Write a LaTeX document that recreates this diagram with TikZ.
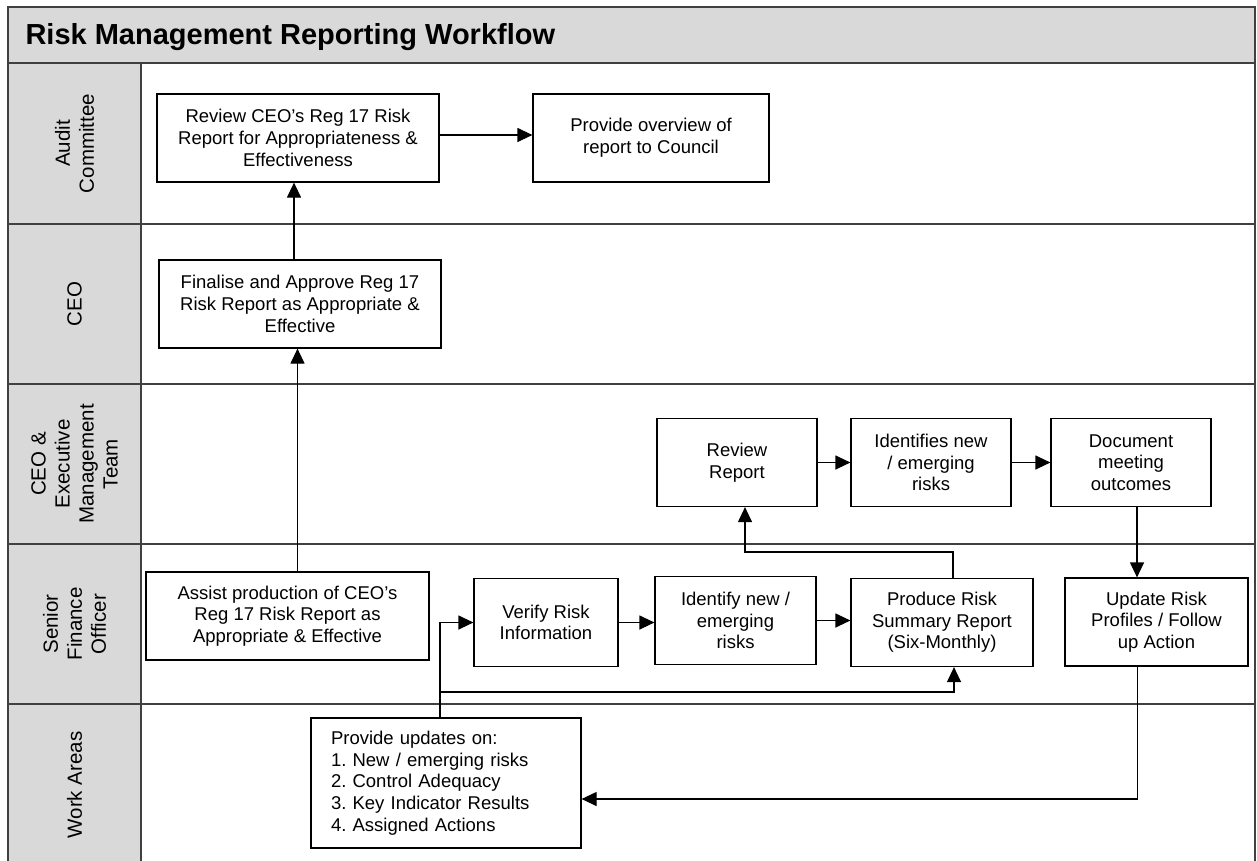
\documentclass[tikz,border=0pt]{standalone}
\usepackage{fontspec}
\setmainfont{Liberation Sans}
\usetikzlibrary{arrows.meta}
\definecolor{lanegray}{RGB}{217,217,217}
\frenchspacing

\begin{document}
\begin{tikzpicture}[
            x=1pt, y=-1pt,
            stepbox/.style={rectangle, draw=black, line width=1.2pt, align=center, inner sep=0pt, minimum height=88, font=\fontsize{18.5}{21.7}\selectfont},
            lanelabel/.style={rotate=90, align=center, font=\fontsize{20.5}{24}\selectfont},
            lane/.style={draw=black!75, line width=1.6pt},
            flow/.style={-{Triangle[length=15pt,width=14pt]}, line width=1.2pt}
          ]

          %Frame
          \clip (0,0) rectangle (1257,861);
          \fill[white] (0,0) rectangle (1257,861);
          \fill[lanegray] (8,7) rectangle (1255,63);
          \fill[lanegray] (8,63) rectangle (141,880);
          \draw[lane] (8,7) rectangle (1255,880);
          \draw[lane] (8,63) -- (1255,63);
          \foreach \y in {224,384,544,704} \draw[lane] (8,\y) -- (1255,\y);
          \draw[lane] (141,63) -- (141,880);

          %Labels
          \node[anchor=base west, font=\fontsize{29}{34}\selectfont\bfseries] at (22,45) (T) {Risk Management Reporting Workflow};
          \node[lanelabel] at (74.5,143.5) (L1) {Audit\\Committee};
          \node[lanelabel] at (74.5,304) (L2) {CEO};
          \node[lanelabel] at (74.5,464) (L3) {CEO \&\\Executive\\Management\\Team};
          \node[lanelabel] at (74.5,624) (L4) {Senior\\Finance\\Officer};
          \node[lanelabel] at (74.5,785) (L5) {Work Areas};

          %Nodes
          \node[stepbox, minimum width=282] at (298,138) (A) {Review CEO’s Reg 17 Risk\\Report for Appropriateness \&\\Effectiveness};
          \node[stepbox, minimum width=236] at (651,138) (B) {Provide overview of\\report to Council};
          \node[stepbox, minimum width=282] at (300,304) (C) {Finalise and Approve Reg 17\\Risk Report as Appropriate \&\\Effective};
          \node[stepbox, minimum width=160] at (737,462.5) (D) {Review\\Report};
          \node[stepbox, minimum width=160] at (931,462.5) (E) {Identifies new\\/ emerging\\risks};
          \node[stepbox, minimum width=160] at (1131,462.5) (F) {Document\\meeting\\outcomes};
          \node[stepbox, minimum width=283] at (287.5,616) (G) {Assist production of CEO’s\\Reg 17 Risk Report as\\Appropriate \& Effective};
          \node[stepbox, minimum width=144] at (546,622.5) (H) {Verify Risk\\Information};
          \node[stepbox, minimum width=161] at (735.5,620.5) (I) {Identify new /\\emerging\\risks};
          \node[stepbox, minimum width=182] at (942,622.5) (J) {Produce Risk\\Summary Report\\(Six-Monthly)};
          \node[stepbox, minimum width=183] at (1156.5,622) (K) {Update Risk\\Profiles / Follow\\up Action};
          \node[stepbox, align=left, text width=230, inner xsep=20, minimum height=130] at (446,783) (L) {Provide updates on:\\1. New / emerging risks\\2. Control Adequacy\\3. Key Indicator Results\\4. Assigned Actions};
          \coordinate (S) at (440,692);

          %Lines
          \draw[flow] ([yshift=3pt]A.east) -- ([yshift=3pt]B.west);
          \draw[flow] ([xshift=-6pt]C.north) -- ([xshift=-6pt]C.north |- A.south);
          \draw[flow] ([xshift=10pt]G.north) -- ([xshift=10pt]G.north |- C.south);
          \draw[flow] (D.east) -- (E.west);
          \draw[flow] (E.east) -- (F.west);
          \draw[flow] ([xshift=6pt]F.south) -- ([xshift=6pt]F.south |- K.north);
          \draw[flow] ([xshift=-19pt]K.south) |- ([yshift=-16pt]L.east);
          \draw[flow] ([xshift=-6pt]L.north) |- (H.west);
          \draw[flow] (S) -| ([xshift=12pt]J.south);
          \draw[flow] (H.east) -- (H.east -| I.west);
          \draw[flow] (I.east) -- (I.east -| J.west);
          \draw[flow] ([xshift=11pt]J.north) -- ++(0,-26) -| ([xshift=8pt]D.south);

        \end{tikzpicture}
\end{document}
